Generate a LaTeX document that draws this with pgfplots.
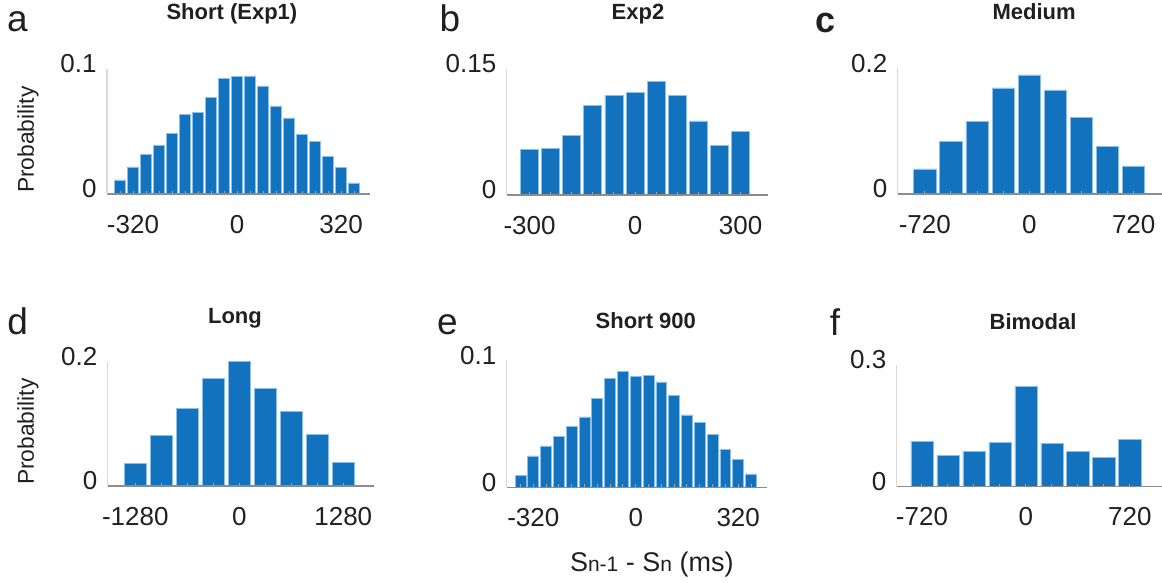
\documentclass[border=0pt]{standalone}
\usepackage{pgfplots}
\pgfplotsset{compat=1.18}
\usepackage{fontspec}
\setmainfont{Liberation Sans}
\definecolor{barblue}{HTML}{1372BE}
\definecolor{baredge}{HTML}{8CC0EA}
\definecolor{txt}{HTML}{202020}
\newcommand{\tfont}{\fontsize{13}{15}\selectfont}
\newcommand{\sub}[1]{{\fontsize{10.5}{12}\selectfont #1}}
\pgfplotsset{
  panel/.style={
    scale only axis,
    anchor=south west,
    axis x line*=bottom, axis y line*=left,
    x axis line style={draw=black!45, line width=0.6pt},
    y axis line style={draw=black!15, line width=0.6pt},
    ymin=0,
    tick align=inside,
    major tick length=1.5pt, minor tick length=1.5pt,
    xtick style={draw=black!35, line width=0.5pt},
    every minor tick/.append style={draw=black!35, line width=0.5pt},
    ytick style={draw=none},
    x tick label style={font=\tfont, text=txt, anchor=north, inner sep=0pt, yshift=-10.3pt},
    y tick label style={font=\tfont, text=txt, anchor=east, inner sep=0pt, xshift=-5pt, yshift=2.5pt},
    title style={font=\bfseries\fontsize{11}{13}\selectfont, text=txt, anchor=base, inner sep=0pt},
    ylabel style={font=\fontsize{11.4}{13}\selectfont, text=txt, anchor=base, inner sep=0pt},
    axis on top,
    clip=false,
  },
  hbar/.style={ybar, bar width=#1, fill=barblue, draw=baredge, line width=0.4pt},
}
\begin{document}
\begin{tikzpicture}
\path[use as bounding box] (0,0) rectangle (581pt,291.5pt);
% a
\begin{axis}[panel, at={(53.5pt,194.5pt)}, width=131.5pt, height=62.5pt,
  xmin=-400, xmax=409, ymax=0.1,
  xtick={-320,0,320}, xticklabels={-320,0,320},
  minor xtick={-360,-320,...,360},
  ytick={0,0.1}, yticklabels={0,0.1},
  title={Short (Exp1)}, title style={at={(0.475,1.296)}},
  ylabel={Probability}, ylabel style={at={(-0.2776,0.4344)}}]
\addplot[hbar=34] coordinates {(-360,0.0112) (-320,0.0216) (-280,0.0317) (-240,0.0387) (-200,0.0485) (-160,0.0635) (-120,0.0651) (-80,0.0773) (-40,0.0925) (0,0.0941) (40,0.0944) (80,0.0864) (120,0.0704) (160,0.0608) (200,0.0475) (240,0.0421) (280,0.0299) (320,0.0211) (360,0.0088)};
\end{axis}
% b
\begin{axis}[panel, at={(253.35pt,194pt)}, width=130.8pt, height=63pt,
  xmin=-365, xmax=379, ymax=0.15,
  xtick={-300,0,300}, xticklabels={-300,0,300},
  minor xtick={-300,-240,...,300},
  ytick={0,0.15}, yticklabels={0,0.15},
  title={Exp2}, title style={at={(0.502,1.294)}}]
\addplot[hbar=51] coordinates {(-300,0.0544) (-240,0.0552) (-180,0.0714) (-120,0.1071) (-60,0.1187) (0,0.1226) (60,0.1353) (120,0.1190) (180,0.0881) (240,0.0595) (300,0.0754)};
\end{axis}
% c
\begin{axis}[panel, at={(448.85pt,194.5pt)}, width=132.15pt, height=62.85pt,
  xmin=-907, xmax=915, ymax=0.2,
  xtick={-720,0,720}, xticklabels={-720,0,720},
  minor xtick={-720,-540,...,720},
  ytick={0,0.2}, yticklabels={0,0.2},
  title={Medium}, title style={at={(0.516,1.289)}}]
\addplot[hbar=153] coordinates {(-720,0.0398) (-540,0.0838) (-360,0.1157) (-180,0.1687) (0,0.1894) (180,0.1655) (360,0.1220) (540,0.0759) (720,0.0446)};
\end{axis}
% d
\begin{axis}[panel, at={(53.85pt,48.5pt)}, width=133.15pt, height=62.15pt,
  xmin=-1620, xmax=1658, ymax=0.2,
  xtick={-1280,0,1280}, xticklabels={-1280,0,1280},
  minor xtick={-1280,-960,...,1280},
  ytick={0,0.2}, yticklabels={0,0.2},
  title={Long}, title style={at={(0.478,1.207)}},
  ylabel={Probability}, ylabel style={at={(-0.2768,0.437)}}]
\addplot[hbar=272] coordinates {(-1280,0.0365) (-960,0.0810) (-640,0.1249) (-320,0.1727) (0,0.2000) (320,0.1571) (640,0.1196) (960,0.0836) (1280,0.0386)};
\end{axis}
% e
\begin{axis}[panel, at={(253.35pt,47.85pt)}, width=130pt, height=63.15pt,
  xmin=-403, xmax=409, ymax=0.1,
  xtick={-320,0,320}, xticklabels={-320,0,320},
  minor xtick={-360,-320,...,360},
  ytick={0,0.1}, yticklabels={0,0.1},
  title={Short 900}, title style={at={(0.535,1.161)}},
  xlabel={S\sub{n-1} - S\sub{n} (ms)},
  xlabel style={at={(0.558,-0.668)}, anchor=base, inner sep=0pt, font=\fontsize{13.5}{15}\selectfont, text=txt}]
\addplot[hbar=34] coordinates {(-360,0.0092) (-320,0.0248) (-280,0.0327) (-240,0.0401) (-200,0.0485) (-160,0.0557) (-120,0.0707) (-80,0.0863) (-40,0.0918) (0,0.0881) (40,0.0887) (80,0.0834) (120,0.0726) (160,0.0573) (200,0.0512) (240,0.0420) (280,0.0303) (320,0.0222) (360,0.0106)};
\end{axis}
% f
\begin{axis}[panel, at={(448.35pt,48.15pt)}, width=132.65pt, height=60.85pt,
  xmin=-895, xmax=942, ymax=0.3,
  xtick={-720,0,720}, xticklabels={-720,0,720},
  minor xtick={-720,-540,...,720},
  ytick={0,0.3}, yticklabels={0,0.3},
  title={Bimodal}, title style={at={(0.514,1.191)}}]
\addplot[hbar=153] coordinates {(-720,0.1118) (-540,0.0764) (-360,0.0879) (-180,0.1093) (0,0.2482) (180,0.1068) (360,0.0863) (540,0.0732) (720,0.1159)};
\end{axis}
% panel letters
\begin{scope}[every node/.style={anchor=base west, inner sep=0pt, text=txt, font=\fontsize{18.5}{21}\selectfont}]
\node at (3.4pt,275.65pt) {a};
\node at (219.6pt,275.65pt) {b};
\node[font=\bfseries\fontsize{18}{20}\selectfont] at (407.6pt,275.25pt) {c};
\node at (3.5pt,124pt) {d};
\node at (218.4pt,124pt) {e};
\node at (414.75pt,123.65pt) {f};
\end{scope}
\end{tikzpicture}
\end{document}
